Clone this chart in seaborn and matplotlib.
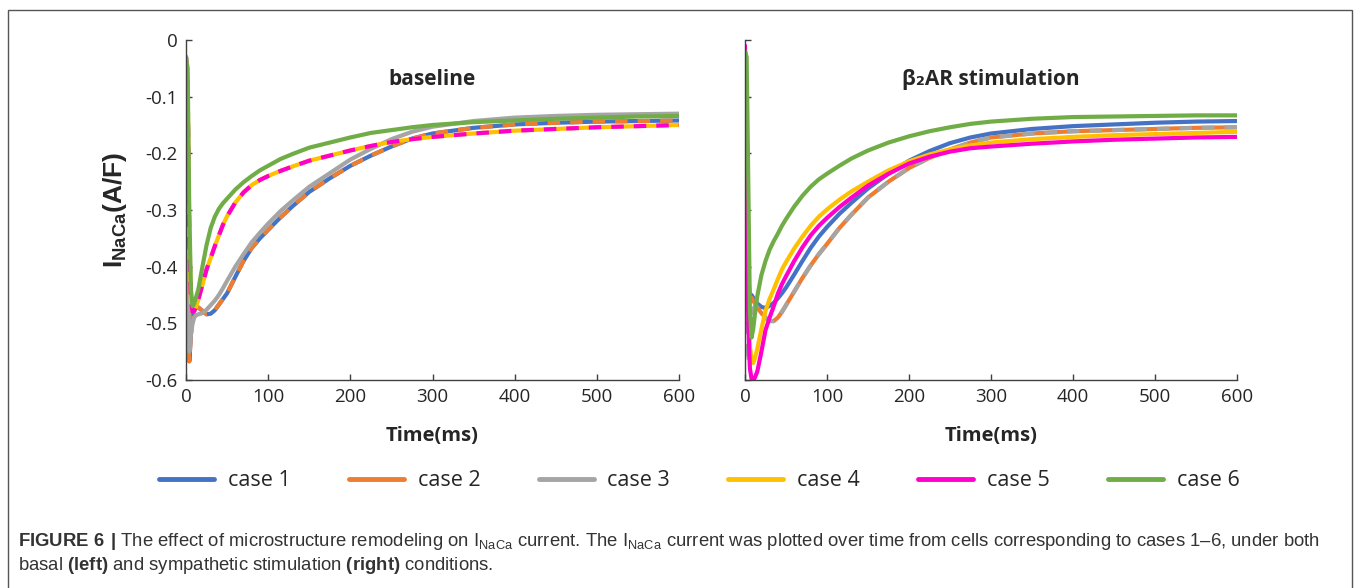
import pandas as pd
import seaborn as sns
import matplotlib.pyplot as plt
from matplotlib.lines import Line2D
from matplotlib.patches import Rectangle
from matplotlib.ticker import FuncFormatter

# Time points (ms)
t_ms = [0, 2, 4, 6, 8, 10, 12, 15, 20, 25, 30, 35, 40, 45, 50, 60, 70, 80, 90, 100,
        115, 130, 150, 175, 200, 225, 250, 275, 300, 350, 400, 450, 500, 550, 600]

cases = ["case 1", "case 2", "case 3", "case 4", "case 5", "case 6"]
colors = ["#4472C4", "#ED7D31", "#A5A5A5", "#FFC000", "#FF00CC", "#70AD47"]

# baseline panel, I_NaCa (A/F)
base_case1 = [-0.03, -0.40, -0.567, -0.52, -0.49, -0.478, -0.472, -0.472, -0.478, -0.484,
              -0.483, -0.477, -0.467, -0.457, -0.447, -0.418, -0.390, -0.367, -0.350, -0.335,
              -0.313, -0.293, -0.268, -0.244, -0.222, -0.204, -0.188, -0.174, -0.165, -0.155,
              -0.149, -0.146, -0.144, -0.143, -0.142]
base_case2 = [-0.03, -0.40, -0.567, -0.52, -0.49, -0.478, -0.472, -0.472, -0.478, -0.484,
              -0.483, -0.477, -0.467, -0.457, -0.447, -0.418, -0.390, -0.367, -0.350, -0.335,
              -0.313, -0.293, -0.268, -0.244, -0.222, -0.204, -0.188, -0.174, -0.165, -0.155,
              -0.149, -0.146, -0.144, -0.143, -0.142]
base_case3 = [-0.03, -0.35, -0.55, -0.52, -0.50, -0.49, -0.486, -0.484, -0.482, -0.476,
              -0.468, -0.460, -0.450, -0.438, -0.425, -0.400, -0.378, -0.357, -0.340, -0.324,
              -0.302, -0.283, -0.259, -0.235, -0.211, -0.192, -0.175, -0.162, -0.153, -0.143,
              -0.137, -0.134, -0.132, -0.131, -0.130]
base_case4 = [-0.03, -0.08, -0.35, -0.46, -0.48, -0.478, -0.472, -0.458, -0.432, -0.405,
              -0.385, -0.364, -0.345, -0.326, -0.311, -0.287, -0.269, -0.256, -0.247, -0.240,
              -0.231, -0.223, -0.213, -0.204, -0.195, -0.187, -0.180, -0.175, -0.171, -0.165,
              -0.160, -0.157, -0.154, -0.152, -0.150]
base_case5 = [-0.03, -0.08, -0.35, -0.46, -0.48, -0.478, -0.472, -0.458, -0.432, -0.405,
              -0.385, -0.364, -0.345, -0.326, -0.311, -0.287, -0.269, -0.256, -0.247, -0.240,
              -0.231, -0.223, -0.213, -0.204, -0.195, -0.187, -0.180, -0.175, -0.171, -0.165,
              -0.160, -0.157, -0.154, -0.152, -0.150]
base_case6 = [-0.03, -0.05, -0.30, -0.44, -0.47, -0.465, -0.455, -0.44, -0.40, -0.362,
              -0.332, -0.312, -0.298, -0.288, -0.280, -0.264, -0.251, -0.240, -0.230, -0.222,
              -0.210, -0.201, -0.190, -0.181, -0.172, -0.164, -0.159, -0.154, -0.150, -0.145,
              -0.142, -0.139, -0.137, -0.135, -0.134]

# beta2-AR stimulation panel
stim_case1 = [-0.02, -0.20, -0.42, -0.453, -0.45, -0.455, -0.46, -0.465, -0.471, -0.473,
              -0.469, -0.464, -0.456, -0.447, -0.437, -0.414, -0.390, -0.367, -0.347, -0.330,
              -0.307, -0.287, -0.262, -0.236, -0.213, -0.196, -0.182, -0.172, -0.165, -0.157,
              -0.152, -0.149, -0.146, -0.144, -0.143]
stim_case2 = [-0.02, -0.25, -0.44, -0.46, -0.455, -0.46, -0.465, -0.472, -0.482, -0.49,
              -0.496, -0.496, -0.49, -0.48, -0.468, -0.444, -0.420, -0.398, -0.378, -0.360,
              -0.332, -0.308, -0.278, -0.250, -0.226, -0.208, -0.193, -0.181, -0.172, -0.165,
              -0.161, -0.159, -0.157, -0.155, -0.154]
stim_case3 = [-0.02, -0.40, -0.57, -0.53, -0.49, -0.475, -0.47, -0.472, -0.482, -0.49,
              -0.496, -0.496, -0.49, -0.48, -0.468, -0.444, -0.420, -0.398, -0.378, -0.360,
              -0.332, -0.308, -0.278, -0.250, -0.226, -0.208, -0.193, -0.181, -0.172, -0.165,
              -0.161, -0.159, -0.157, -0.155, -0.154]
stim_case4 = [-0.02, -0.15, -0.42, -0.54, -0.566, -0.57, -0.562, -0.545, -0.51, -0.478,
              -0.457, -0.440, -0.422, -0.405, -0.392, -0.368, -0.347, -0.328, -0.312, -0.299,
              -0.282, -0.267, -0.250, -0.230, -0.214, -0.202, -0.193, -0.186, -0.181, -0.175,
              -0.171, -0.168, -0.166, -0.164, -0.162]
stim_case5 = [-0.01, -0.25, -0.50, -0.58, -0.598, -0.60, -0.596, -0.585, -0.55, -0.512,
              -0.49, -0.47, -0.448, -0.431, -0.417, -0.390, -0.366, -0.345, -0.328, -0.314,
              -0.295, -0.278, -0.257, -0.236, -0.218, -0.206, -0.197, -0.191, -0.188, -0.183,
              -0.179, -0.176, -0.174, -0.172, -0.171]
stim_case6 = [-0.02, -0.03, -0.25, -0.48, -0.525, -0.51, -0.485, -0.452, -0.415, -0.39,
              -0.37, -0.355, -0.342, -0.328, -0.316, -0.294, -0.275, -0.259, -0.246, -0.236,
              -0.222, -0.209, -0.195, -0.181, -0.170, -0.161, -0.154, -0.148, -0.144, -0.139,
              -0.136, -0.135, -0.134, -0.133, -0.133]

base = [base_case1, base_case2, base_case3, base_case4, base_case5, base_case6]
stim = [stim_case1, stim_case2, stim_case3, stim_case4, stim_case5, stim_case6]


def to_long(series):
    rows = []
    for name, vals in zip(cases, series):
        for t, v in zip(t_ms, vals):
            rows.append((t, v, name))
    return pd.DataFrame(rows, columns=["time", "current", "case"])


sns.set_style("ticks")
plt.rcParams["font.family"] = ["Open Sans", "DejaVu Sans"]
plt.rcParams["mathtext.fontset"] = "custom"
plt.rcParams["mathtext.rm"] = "Liberation Sans"
plt.rcParams["mathtext.bf"] = "Liberation Sans:bold"

W, H = 1358, 588
fig = plt.figure(figsize=(W / 100, H / 100), dpi=100)

# frame around the figure panel
fig.add_artist(Rectangle((8 / W, -0.1), 1344 / W, 1.1 - 10 / H, transform=fig.transFigure,
                         fill=False, edgecolor="#555555", linewidth=1.0))

ax1 = fig.add_axes([186 / W, 1 - 380 / H, 493 / W, 340 / H])
ax2 = fig.add_axes([745 / W, 1 - 380 / H, 492 / W, 340 / H])

palette = dict(zip(cases, colors))
solid, dashed = "", (3, 2.4)
dash_base = dict(zip(cases, [solid, dashed, solid, solid, dashed, solid]))
dash_stim = dict(zip(cases, [solid, solid, dashed, solid, solid, solid]))

for ax, data, dmap, title in [(ax1, base, dash_base, "baseline"),
                              (ax2, stim, dash_stim, "β₂AR stimulation")]:
    sns.lineplot(data=to_long(data), x="time", y="current", hue="case", style="case",
                 palette=palette, dashes=dmap, linewidth=3, legend=False, ax=ax)
    ax.set_xlim(0, 600)
    ax.set_ylim(-0.6, 0)
    ax.set_xticks(range(0, 601, 100))
    ax.set_yticks([0, -0.1, -0.2, -0.3, -0.4, -0.5, -0.6])
    ax.yaxis.set_major_formatter(FuncFormatter(lambda v, p: "0" if v == 0 else f"{v:.1f}"))
    for s in ["top", "right"]:
        ax.spines[s].set_visible(False)
    for s in ["left", "bottom"]:
        ax.spines[s].set_color("#404040")
        ax.spines[s].set_linewidth(1.0)
    ax.tick_params(direction="in", length=4, width=1, color="#404040",
                   labelsize=13.5, pad=6)
    ax.set_xlabel("Time(ms)", fontsize=14.5, fontweight="bold", labelpad=14)
    ax.text(0.5, 0.885, title, transform=ax.transAxes, ha="center", va="center",
            fontsize=15, fontweight="bold")

ax1.set_ylabel(r"$\mathbf{I_{NaCa}(A/F)}$", fontsize=19, labelpad=12)
ax2.set_ylabel("")
ax2.tick_params(labelleft=False)

handles = [Line2D([], [], color=c, linewidth=3.5) for c in colors]
fig.legend(handles, cases, loc="center", bbox_to_anchor=(0.515, 1 - 481 / H), ncol=6,
           frameon=False, fontsize=15.5, handlelength=2.55, handletextpad=0.65,
           columnspacing=2.7)

cap_color = "#333333"
fig.text(18 / W, 1 - 541 / H,
         r"$\bf{FIGURE\ 6\ |}$ The effect of microstructure remodeling on I$_{\rm NaCa}$ current. "
         r"The I$_{\rm NaCa}$ current was plotted over time from cells corresponding to cases 1–6, under both",
         fontsize=13.3, family="Liberation Sans", color=cap_color, va="center")
fig.text(18 / W, 1 - 566 / H,
         r"basal $\bf{(left)}$ and sympathetic stimulation $\bf{(right)}$ conditions.",
         fontsize=13.3, family="Liberation Sans", color=cap_color, va="center")

fig.savefig("out.png", dpi=100)
